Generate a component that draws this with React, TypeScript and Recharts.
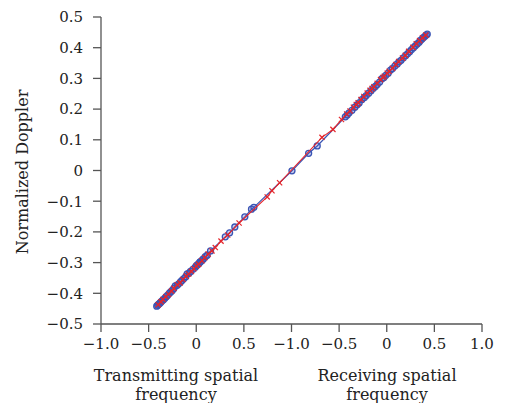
import React from "react";
import { ScatterChart, Scatter, XAxis, YAxis } from "recharts";

// x positions on the combined axis: 0..4 = transmitting (-1..1), 4..8 = receiving (-1..1)
const xTickPos = [0, 1, 2, 3, 4, 5, 6, 7, 8];
const xTickLabels = ["−1.0", "−0.5", "0", "0.5", "−1.0", "−0.5", "0", "0.5", "1.0"];
const yTicks = [-0.5, -0.4, -0.3, -0.2, -0.1, 0, 0.1, 0.2, 0.3, 0.4, 0.5];

const bluePos = [
  1.17, 1.19, 1.21, 1.23, 1.25, 1.28, 1.31, 1.34, 1.37, 1.4, 1.44, 1.47, 1.5, 1.53, 1.56,
  1.6, 1.63, 1.67, 1.7, 1.74, 1.78, 1.81, 1.85, 1.88, 1.93, 1.98, 2.01, 2.03, 2.06, 2.08,
  2.1, 2.13, 2.15, 2.19, 2.23, 2.3, 2.61, 2.7, 2.81, 3.02, 3.16, 3.21, 4.01, 4.36, 4.54,
  5.13, 5.17, 5.21, 5.27, 5.33, 5.38, 5.42, 5.48, 5.53, 5.57, 5.62, 5.67, 5.72, 5.76, 5.8,
  5.85, 5.9, 5.94, 5.98, 6.03, 6.08, 6.12, 6.17, 6.22, 6.26, 6.3, 6.35, 6.4, 6.44, 6.48,
  6.52, 6.56, 6.6, 6.64, 6.68, 6.71, 6.74, 6.77, 6.8, 6.83, 6.85,
];
const blueDoppler = [
  -0.442, -0.439, -0.436, -0.433, -0.43, -0.425, -0.421, -0.416, -0.411, -0.406, -0.399,
  -0.395, -0.39, -0.384, -0.376, -0.374, -0.369, -0.363, -0.358, -0.352, -0.346, -0.337,
  -0.334, -0.329, -0.322, -0.315, -0.309, -0.307, -0.302, -0.298, -0.296, -0.291, -0.288,
  -0.281, -0.276, -0.262, -0.216, -0.203, -0.184, -0.151, -0.126, -0.12, -0.001, 0.056,
  0.08, 0.175, 0.181, 0.188, 0.196, 0.206, 0.214, 0.22, 0.231, 0.238, 0.244, 0.252, 0.26,
  0.268, 0.274, 0.28, 0.288, 0.299, 0.303, 0.31, 0.317, 0.327, 0.332, 0.34, 0.347, 0.354,
  0.359, 0.367, 0.375, 0.381, 0.387, 0.394, 0.4, 0.406, 0.412, 0.418, 0.424, 0.428, 0.433,
  0.437, 0.441, 0.444,
];

const redPos = [
  1.2, 1.26, 1.3, 1.36, 1.42, 1.48, 1.53, 1.6, 1.66, 1.72, 1.79, 1.84, 1.9, 1.95, 2.0,
  2.05, 2.12, 2.18, 2.25, 2.33, 2.4, 2.52, 2.66, 2.9, 3.49, 3.59, 3.75, 4.64, 4.87, 5.05,
  5.16, 5.23, 5.3, 5.36, 5.4, 5.46, 5.52, 5.59, 5.65, 5.69, 5.73, 5.8, 5.87, 5.92, 5.95,
  6.01, 6.05, 6.12, 6.19, 6.25, 6.33, 6.39, 6.46, 6.55, 6.62, 6.69, 6.75, 6.82,
];
const redDoppler = [
  -0.437, -0.428, -0.42, -0.411, -0.403, -0.393, -0.384, -0.372, -0.366, -0.355, -0.344,
  -0.337, -0.329, -0.32, -0.311, -0.305, -0.294, -0.284, -0.272, -0.262, -0.251, -0.23,
  -0.21, -0.171, -0.086, -0.066, -0.04, 0.108, 0.134, 0.166, 0.184, 0.194, 0.206, 0.215,
  0.221, 0.231, 0.241, 0.252, 0.261, 0.267, 0.273, 0.284, 0.296, 0.303, 0.307, 0.317,
  0.323, 0.333, 0.345, 0.355, 0.366, 0.375, 0.388, 0.401, 0.413, 0.423, 0.432, 0.441,
];

const blueData = bluePos.map((x, i) => ({ x, y: blueDoppler[i] }));
const redData = redPos.map((x, i) => ({ x, y: redDoppler[i] }));

const BLUE = "#3a54b4";
const RED = "#e4262c";
const AXIS = "#555";
const FONT = "'DejaVu Serif', serif";

const fmtY = (v: number) => {
  if (Math.abs(v) < 1e-9) return "0";
  return (v < 0 ? "−" : "") + Math.abs(v).toFixed(1);
};

const Circle = (p: any) => (
  <circle cx={p.cx} cy={p.cy} r={3} fill="rgba(80,100,205,0.3)" stroke={BLUE} strokeWidth={1.3} />
);

const Cross = (p: any) => {
  const s = 2.6;
  return (
    <g stroke={RED} strokeWidth={1.2}>
      <line x1={p.cx - s} y1={p.cy - s} x2={p.cx + s} y2={p.cy + s} />
      <line x1={p.cx - s} y1={p.cy + s} x2={p.cx + s} y2={p.cy - s} />
    </g>
  );
};

const tickStyle = { fill: "#222", fontSize: 15, fontFamily: FONT };

const titleStyle: React.CSSProperties = {
  position: "absolute",
  top: 366,
  transform: "translateX(-50%)",
  textAlign: "center",
  whiteSpace: "nowrap",
  fontFamily: FONT,
  fontSize: 16,
  lineHeight: "19px",
  color: "#222",
};

export default function App() {
  return (
    <div style={{ position: "absolute", left: 0, top: 0, width: 505, height: 403, background: "#fff" }}>
      <ScatterChart width={505} height={403} margin={{ top: 17, right: 23, left: 0, bottom: 0 }}>
        <XAxis
          type="number"
          dataKey="x"
          domain={[0, 8]}
          ticks={xTickPos}
          tickFormatter={(v: number) => xTickLabels[Math.round(v)]}
          height={79}
          tickSize={8}
          tickMargin={6}
          stroke={AXIS}
          strokeWidth={1.3}
          tick={tickStyle}
          interval={0}
          allowDataOverflow
        />
        <YAxis
          type="number"
          dataKey="y"
          domain={[-0.5, 0.5]}
          ticks={yTicks}
          tickFormatter={fmtY}
          width={101}
          tickSize={8}
          tickMargin={10}
          stroke={AXIS}
          strokeWidth={1.3}
          tick={tickStyle}
          interval={0}
          allowDataOverflow
        />
        <Scatter
          data={blueData}
          line={{ stroke: BLUE, strokeWidth: 1.2 }}
          shape={Circle}
          isAnimationActive={false}
        />
        <Scatter
          data={redData}
          line={{ stroke: RED, strokeWidth: 1.1 }}
          shape={Cross}
          isAnimationActive={false}
        />
      </ScatterChart>
      <div
        style={{
          position: "absolute",
          left: 22,
          top: 172,
          transform: "translate(-50%, -50%) rotate(-90deg)",
          whiteSpace: "nowrap",
          fontFamily: FONT,
          fontSize: 16,
          color: "#222",
        }}
      >
        Normalized Doppler
      </div>
      <div style={{ ...titleStyle, left: 176 }}>
        Transmitting spatial
        <br />
        frequency
      </div>
      <div style={{ ...titleStyle, left: 387 }}>
        Receiving spatial
        <br />
        frequency
      </div>
    </div>
  );
}
